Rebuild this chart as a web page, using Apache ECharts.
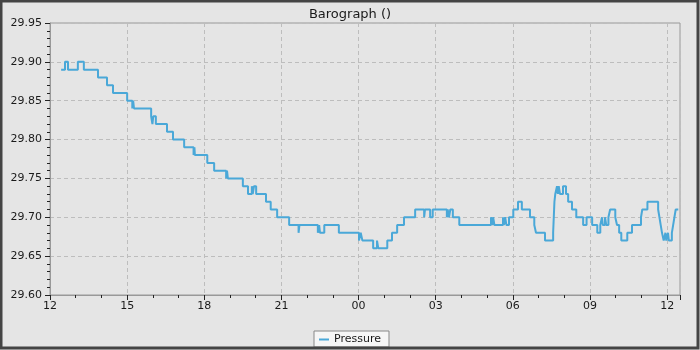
<!DOCTYPE html>
<html>
<head>
<meta charset="utf-8">
<script src="https://cdn.jsdelivr.net/npm/echarts@6/dist/echarts.min.js"></script>
<style>
html,body{margin:0;padding:0;background:#e5e5e5;}
#chart{width:700px;height:350px;}
</style>
</head>
<body>
<div id="chart"></div>
<script>
// Time of each reading change (HH:MM, starting 12:26 on day one and running to 12:26 next day)
const times = [
"12:26","12:35","12:42","13:05","13:19","13:52","14:13","14:27","15:00","15:12","15:14","15:16",
"15:56","15:59","16:01","16:07","16:33","16:47","17:13","17:35","17:37","17:38","18:07","18:23",
"18:51","18:53","18:55","19:30","19:42","19:51","19:53","19:56","20:01","20:24","20:35","20:50",
"21:18","21:40","21:42","22:25","22:28","22:30","22:40","23:14","00:01","00:05","00:09","00:34",
"00:43","00:46","01:07","01:18","01:30","01:46","02:12","02:33","02:35","02:47","02:53","03:26",
"03:28","03:31","03:34","03:40","03:55","05:09","05:12","05:14","05:17","05:37","05:39","05:42",
"05:45","05:51","06:01","06:12","06:21","06:40","06:50","06:54","07:15","07:34","07:37","07:39",
"07:43","07:45","07:47","07:50","07:57","08:04","08:09","08:18","08:28","08:44","08:52","09:05",
"09:17","09:24","09:28","09:30","09:35","09:38","09:43","09:47","09:59","10:03","10:08","10:13",
"10:27","10:38","10:59","11:02","11:14","11:39","11:42","11:45","11:48","11:52","11:56","11:58",
"12:02","12:04","12:11","12:14","12:17","12:20","12:26"
];
// Pressure (inHg) from that time on
const pressure = [
29.89,29.90,29.89,29.90,29.89,29.88,29.87,29.86,29.85,29.84,29.85,29.84,
29.83,29.82,29.83,29.82,29.81,29.80,29.79,29.78,29.79,29.78,29.77,29.76,
29.75,29.76,29.75,29.74,29.73,29.74,29.73,29.74,29.73,29.72,29.71,29.70,
29.69,29.68,29.69,29.68,29.69,29.68,29.69,29.68,29.67,29.68,29.67,29.66,
29.67,29.66,29.67,29.68,29.69,29.70,29.71,29.70,29.71,29.70,29.71,29.70,
29.71,29.70,29.71,29.70,29.69,29.70,29.69,29.70,29.69,29.70,29.69,29.70,
29.69,29.70,29.71,29.72,29.71,29.70,29.69,29.68,29.67,29.68,29.72,29.73,
29.74,29.73,29.74,29.73,29.74,29.73,29.72,29.71,29.70,29.69,29.70,29.69,
29.68,29.69,29.70,29.69,29.70,29.69,29.70,29.71,29.70,29.69,29.68,29.67,
29.68,29.69,29.70,29.71,29.72,29.71,29.70,29.69,29.68,29.67,29.68,29.67,
29.68,29.67,29.68,29.69,29.70,29.71,29.71
];
const yTicks = ["29.60","29.65","29.70","29.75","29.80","29.85","29.90","29.95"];
const startHour = 12;

// convert clock times to hours since 12:00 on day one
const pts = [];
let last = -Infinity;
for (let i = 0; i < times.length; i++) {
  const [hh, mm] = times[i].split(':').map(Number);
  let rel = (hh * 60 + mm - startHour * 60) / 60;
  while (rel < last) rel += 24;
  last = rel;
  pts.push([rel, pressure[i]]);
}

const font = "DejaVu Sans";
const chart = echarts.init(document.getElementById('chart'), null, {renderer: 'canvas'});
chart.setOption({
  backgroundColor: '#e5e5e5',
  animation: false,
  title: {
    text: 'Barograph ()', left: 'center', top: 3,
    textStyle: {fontFamily: font, fontSize: 13, fontWeight: 'normal', color: '#1a1a1a'}
  },
  legend: {
    bottom: 3, left: 'center',
    data: ['Pressure'],
    icon: 'rect', itemWidth: 10, itemHeight: 2, itemGap: 6,
    backgroundColor: '#f6f6f6', borderColor: '#888', borderWidth: 1,
    borderRadius: 0, padding: [3, 8, 2, 5],
    textStyle: {fontFamily: font, fontSize: 11, color: '#1a1a1a'}
  },
  graphic: [{
    type: 'rect', silent: true, z: 100,
    shape: {x: 1, y: 1, width: 697, height: 347},
    style: {fill: 'none', stroke: '#444', lineWidth: 3}
  }],
  grid: {
    left: 50, right: 20, top: 23, bottom: 55, containLabel: false,
    show: true, borderColor: '#999', borderWidth: 1, backgroundColor: 'transparent'
  },
  xAxis: {
    type: 'value', min: 0, max: 24.5, interval: 3,
    axisLine: {show: true, lineStyle: {color: '#999'}},
    axisTick: {show: true, length: 5, lineStyle: {color: '#222'}},
    minorTick: {show: true, splitNumber: 3, length: 3, lineStyle: {color: '#222'}},
    splitLine: {show: true, lineStyle: {color: '#bdbdbd', type: [4, 3]}},
    axisLabel: {
      fontFamily: font, fontSize: 11, color: '#1a1a1a', margin: 6, showMaxLabel: false,
      formatter: v => String((startHour + Math.round(v)) % 24).padStart(2, '0')
    }
  },
  yAxis: {
    type: 'value', min: 29.60, max: 29.95, interval: 0.05,
    axisLine: {show: true, lineStyle: {color: '#999'}},
    axisTick: {show: true, length: 5, lineStyle: {color: '#222'}},
    minorTick: {show: true, splitNumber: 5, length: 3, lineStyle: {color: '#222'}},
    splitLine: {show: true, lineStyle: {color: '#bdbdbd', type: [4, 3]}},
    axisLabel: {
      fontFamily: font, fontSize: 11, color: '#1a1a1a', margin: 8,
      formatter: v => yTicks[Math.round((v - 29.60) / 0.05)] || v.toFixed(2)
    }
  },
  series: [{
    name: 'Pressure', type: 'line', step: 'end', data: pts,
    showSymbol: false, symbol: 'none',
    lineStyle: {color: '#4aa8d8', width: 2},
    itemStyle: {color: '#4aa8d8'}
  }]
});
</script>
</body>
</html>
